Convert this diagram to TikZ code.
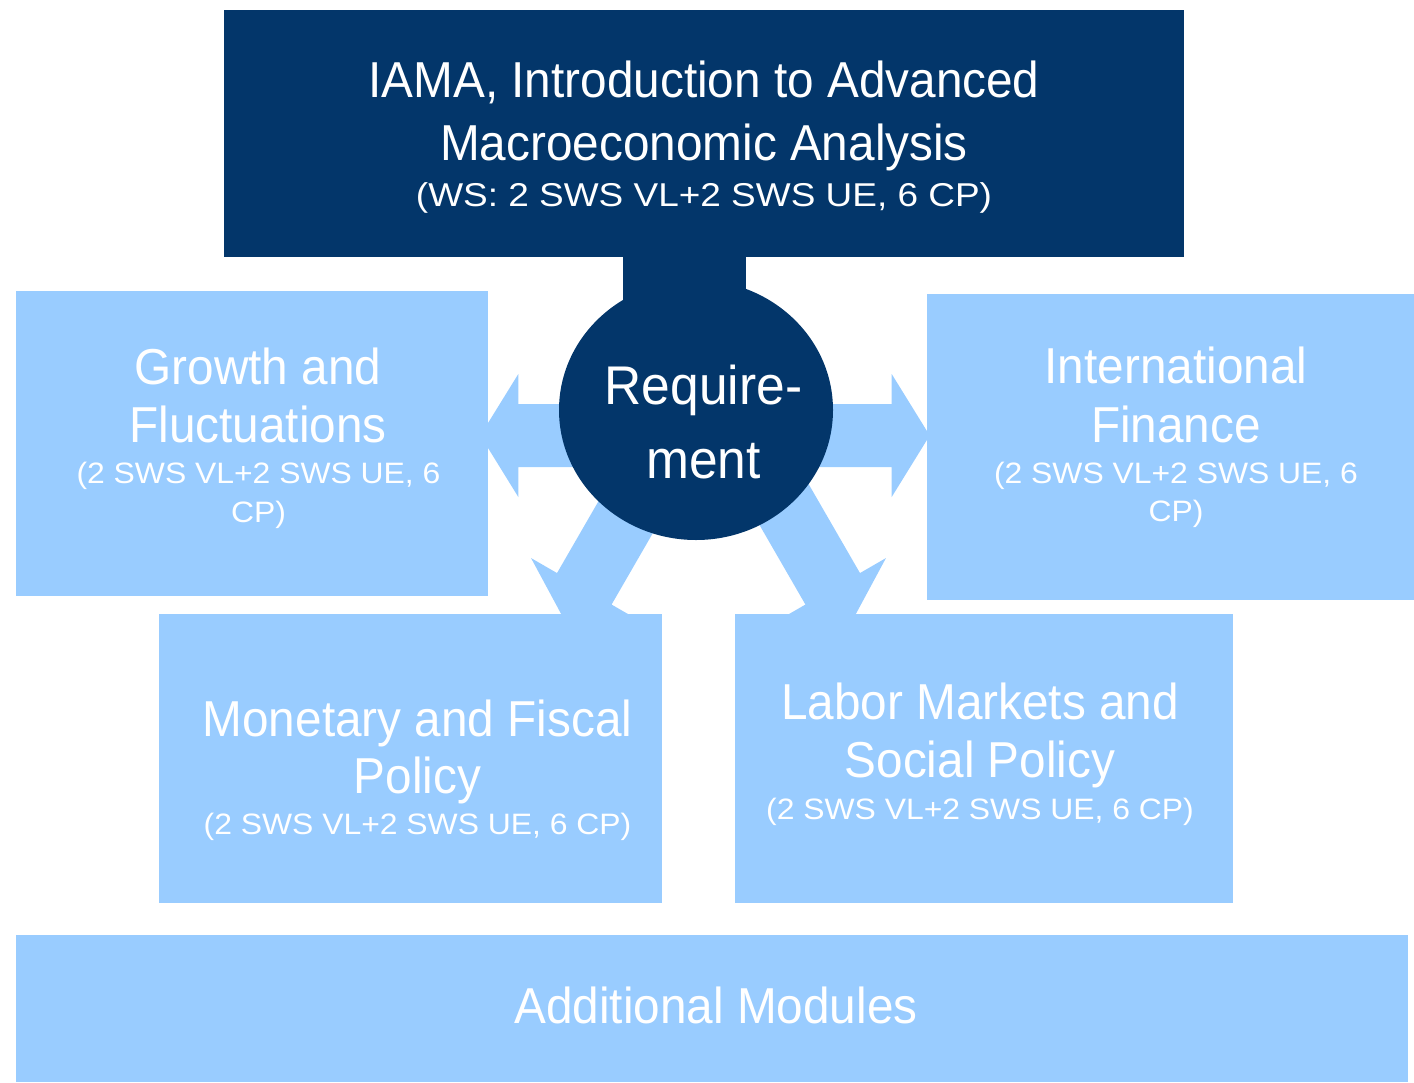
\documentclass[tikz,border=0pt]{standalone}
\usepackage{fontspec}
\setmainfont{Liberation Sans}
\newfontfamily\ftitle[FakeStretch=0.945]{Liberation Sans}
\newfontfamily\fsub[FakeStretch=1.08]{Liberation Sans}
\newfontfamily\ftopsub[FakeStretch=1.12]{Liberation Sans}
\usetikzlibrary{shapes.geometric}
\definecolor{navy}{RGB}{3,54,106}
\definecolor{lblue}{RGB}{153,204,255}
\begin{document}
\begin{tikzpicture}[x=1pt,y=-1pt,
  lbox/.style={fill=lblue, draw=none, inner sep=0pt, rectangle},
  dbox/.style={fill=navy, draw=none, inner sep=0pt, rectangle},
  ttl/.style={text=white, inner sep=0pt, anchor=base, font=\ftitle\fontsize{50.5}{60}\selectfont},
  sub/.style={text=white, inner sep=0pt, anchor=base, font=\fsub\fontsize{29.5}{36}\selectfont},
  topsub/.style={text=white, inner sep=0pt, anchor=base, font=\ftopsub\fontsize{33}{40}\selectfont},
  reqtxt/.style={text=white, inner sep=0pt, anchor=base, font=\ftitle\fontsize{54.5}{64}\selectfont},
  blockarrow/.style={fill=lblue, draw=none}]
\useasboundingbox (0,0) rectangle (1414,1082);

% block arrows (drawn first, boxes cover their tips)
\coordinate (aL) at (518.3,435.5);
\coordinate (aR) at (891.7,435.5);
\coordinate (aBL) at (584.3,588.8);
\coordinate (aBR) at (832.7,588.8);
\foreach \c/\ang/\len in {aL/180/178, aR/0/196, aBL/240/220, aBR/-60/220}{
  \fill[blockarrow, shift={(\c)}, rotate=\ang]
    (-\len,-31.5) -- (0,-31.5) -- (0,-61.5) -- (38,0) -- (0,61.5) -- (0,31.5) -- (-\len,31.5) -- cycle;
}

% light boxes
\node[lbox, minimum width=472pt, minimum height=305pt] (growth) at (252,443.5) {};
\node[lbox, minimum width=487pt, minimum height=306pt] (intl) at (1170.5,447) {};
\node[lbox, minimum width=503pt, minimum height=289pt] (monetary) at (410.5,758.3) {};
\node[lbox, minimum width=498pt, minimum height=289pt] (labor) at (984,758.3) {};
\node[lbox, minimum width=1392pt, minimum height=147pt] (additional) at (712,1008.5) {};

% top box, stem and circle
\node[dbox, minimum width=960pt, minimum height=247pt] (iama) at (704,133.5) {};
\node[dbox, minimum width=123pt, minimum height=60pt] (stem) at (684.5,285) {};
\node[ellipse, fill=navy, draw=none, inner sep=0pt, minimum width=274pt, minimum height=260pt] (circ) at (696,410) {};

% texts
\node[ttl] (t1) at (704,97) {IAMA, Introduction to Advanced};
\node[ttl] (t2) at (704,160) {Macroeconomic Analysis};
\node[topsub] (t3) at (704,206) {(WS: 2 SWS VL+2 SWS UE, 6 CP)};

\node[ttl] (g1) at (258,384) {Growth and};
\node[ttl] (g2) at (258,442) {Fluctuations};
\node[sub] (g3) at (258.5,483) {(2 SWS VL+2 SWS UE, 6};
\node[sub] (g4) at (258.5,522) {CP)};

\node[ttl] (i1) at (1176,383) {International};
\node[ttl] (i2) at (1176,442) {Finance};
\node[sub] (i3) at (1176,483) {(2 SWS VL+2 SWS UE, 6};
\node[sub] (i4) at (1176,521) {CP)};

\node[ttl] (m1) at (417.5,736) {Monetary and Fiscal};
\node[ttl] (m2) at (417.5,793) {Policy};
\node[sub] (m3) at (417.5,834) {(2 SWS VL+2 SWS UE, 6 CP)};

\node[ttl] (l1) at (980,719) {Labor Markets and};
\node[ttl] (l2) at (980,777) {Social Policy};
\node[sub] (l3) at (980,819) {(2 SWS VL+2 SWS UE, 6 CP)};

\node[ttl] (a1) at (716,1023) {Additional Modules};

\node[reqtxt] (r1) at (703.5,404) {Require-};
\node[reqtxt] (r2) at (703.5,478) {ment};
\end{tikzpicture}
\end{document}
